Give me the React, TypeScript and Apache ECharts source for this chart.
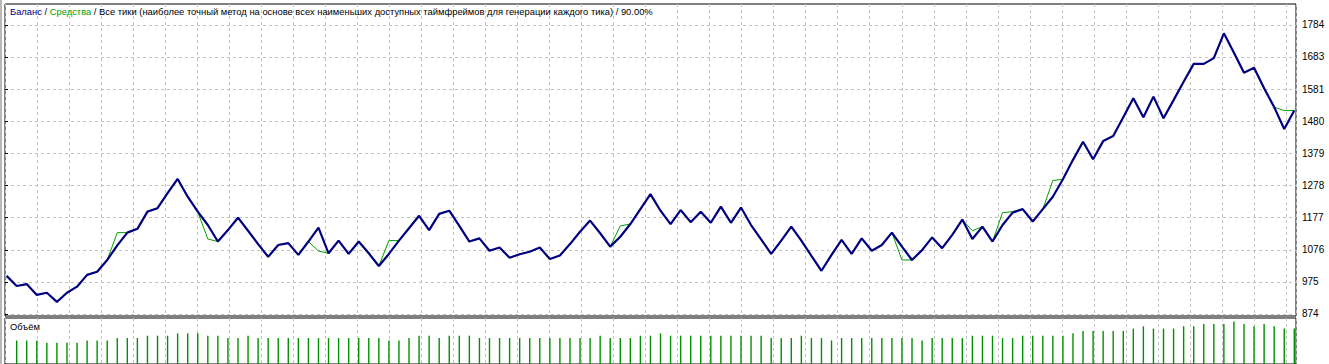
import React, { useEffect, useRef } from "react";
import * as echarts from "echarts";

// Trade index 0..128 (0 = initial deposit)
const balance: number[] = [
  994, 962, 968, 934, 941, 912, 941, 960, 997, 1007,
  1044, 1090, 1130, 1142, 1196, 1207, 1254, 1299, 1243, 1196,
  1154, 1102, 1138, 1177, 1136, 1094, 1054, 1091, 1097, 1060,
  1102, 1146, 1065, 1105, 1063, 1102, 1065, 1025, 1063, 1105,
  1144, 1183, 1138, 1189, 1199, 1151, 1102, 1112, 1073, 1083,
  1051, 1062, 1070, 1083, 1047, 1058, 1094, 1133, 1168, 1128,
  1086, 1117, 1157, 1204, 1251, 1199, 1157, 1201, 1163, 1196,
  1161, 1212, 1161, 1209, 1154, 1109, 1063, 1105, 1149, 1105,
  1057, 1010, 1060, 1107, 1063, 1112, 1073, 1091, 1130, 1086,
  1044, 1075, 1115, 1081, 1123, 1171, 1110, 1149, 1102, 1154,
  1193, 1204, 1165, 1204, 1243, 1298, 1359, 1416, 1361, 1418,
  1434, 1493, 1553, 1493, 1558, 1490, 1547, 1605, 1661, 1661,
  1679, 1757, 1696, 1633, 1649, 1584, 1525, 1456, 1514,
];

const equity: number[] = [
  994, 962, 968, 934, 941, 912, 941, 960, 997, 1007,
  1044, 1130, 1130, 1142, 1196, 1207, 1254, 1299, 1243, 1196,
  1110, 1102, 1138, 1177, 1136, 1094, 1054, 1091, 1097, 1060,
  1102, 1072, 1065, 1105, 1063, 1102, 1065, 1025, 1105, 1105,
  1144, 1183, 1138, 1189, 1199, 1151, 1102, 1112, 1073, 1083,
  1051, 1062, 1070, 1083, 1047, 1058, 1094, 1133, 1168, 1128,
  1086, 1151, 1157, 1204, 1251, 1199, 1157, 1201, 1163, 1196,
  1161, 1212, 1161, 1209, 1154, 1109, 1063, 1105, 1149, 1105,
  1057, 1010, 1060, 1107, 1063, 1112, 1073, 1091, 1130, 1044,
  1044, 1075, 1115, 1081, 1123, 1171, 1136, 1149, 1102, 1193,
  1196, 1204, 1165, 1204, 1294, 1298, 1359, 1416, 1361, 1418,
  1434, 1493, 1553, 1493, 1558, 1490, 1547, 1605, 1661, 1661,
  1679, 1757, 1696, 1633, 1649, 1584, 1525, 1514, 1514,
];

// Lots for trades 1..128
const volume: number[] = [
  0.10, 0.10, 0.10, 0.09, 0.09, 0.09, 0.09, 0.10, 0.10, 0.10,
  0.11, 0.11, 0.11, 0.12, 0.12, 0.12, 0.13, 0.13, 0.13, 0.12,
  0.12, 0.11, 0.11, 0.12, 0.11, 0.11, 0.11, 0.11, 0.11, 0.11,
  0.11, 0.11, 0.11, 0.11, 0.11, 0.11, 0.11, 0.10, 0.10, 0.11,
  0.12, 0.12, 0.11, 0.12, 0.12, 0.12, 0.11, 0.11, 0.11, 0.11,
  0.11, 0.11, 0.11, 0.11, 0.11, 0.11, 0.11, 0.11, 0.12, 0.11,
  0.11, 0.11, 0.12, 0.12, 0.13, 0.12, 0.12, 0.12, 0.12, 0.12,
  0.12, 0.12, 0.12, 0.12, 0.12, 0.11, 0.11, 0.11, 0.12, 0.11,
  0.11, 0.10, 0.11, 0.11, 0.11, 0.11, 0.11, 0.11, 0.11, 0.11,
  0.10, 0.11, 0.11, 0.11, 0.11, 0.12, 0.12, 0.12, 0.11, 0.11,
  0.12, 0.12, 0.12, 0.12, 0.12, 0.13, 0.14, 0.14, 0.14, 0.14,
  0.14, 0.15, 0.16, 0.15, 0.15, 0.15, 0.16, 0.16, 0.17, 0.17,
  0.17, 0.18, 0.17, 0.16, 0.17, 0.16, 0.15, 0.15,
];

const yTicks: number[] = [874, 975, 1076, 1177, 1278, 1379, 1480, 1581, 1683, 1784];

const headerText =
  "{b|Баланс} / {g|Средства} / Все тики (наиболее точный метод на основе всех наименьших доступных таймфреймов для генерации каждого тика) / 90.00%";
const volumeTitle = "Объём";

const FONT = "'Liberation Sans Narrow', 'Liberation Sans', Arial, sans-serif";
const NAVY = "#000080";
const GREEN = "#00a000";
const GRIDC = "#c4c4c4";
const HSIZE = 9.4;

export default function App() {
  const ref = useRef<HTMLDivElement>(null);
  useEffect(() => {
    if (!ref.current) return;
    const chart = echarts.init(ref.current, null, { renderer: "svg" });
    const dashed = { show: true, lineStyle: { color: GRIDC, type: [3, 3] as any, width: 1 } };
    const gridXAxis = (gi: number) => ({
      type: "value",
      gridIndex: gi,
      min: 0,
      max: 40.31,
      interval: 1,
      axisLine: { show: false },
      axisTick: { show: false },
      axisLabel: { show: false },
      splitLine: dashed,
    });
    const dataXAxis = (gi: number) => ({
      type: "value",
      gridIndex: gi,
      min: -0.16,
      max: 128.17,
      show: false,
      splitLine: { show: false },
    });
    chart.setOption({
      animation: false,
      backgroundColor: "#ffffff",
      title: {
        text: headerText,
        left: 10,
        top: 7,
        padding: 0,
        textStyle: {
          fontFamily: FONT,
          fontSize: HSIZE,
          fontWeight: "normal",
          color: "#000",
          rich: {
            b: { color: NAVY, fontFamily: FONT, fontSize: HSIZE },
            g: { color: GREEN, fontFamily: FONT, fontSize: HSIZE },
          },
        },
      },
      graphic: [
        { type: "rect", shape: { x: 0, y: 0, width: 2, height: 364 }, style: { fill: "#b8b8b8" }, silent: true },
        {
          type: "text",
          left: 10,
          top: 322,
          style: { text: volumeTitle, font: `${HSIZE}px ${FONT}`, fill: "#000" },
          silent: true,
        },
      ],
      grid: [
        { left: 5, top: 4, width: 1291, height: 312, show: true, borderColor: "#000", borderWidth: 1, backgroundColor: "#fff" },
        { left: 5, top: 318, width: 1291, height: 78, show: true, borderColor: "#000", borderWidth: 1, backgroundColor: "#fff" },
      ],
      xAxis: [gridXAxis(0), dataXAxis(0), gridXAxis(1), dataXAxis(1)],
      yAxis: [
        {
          type: "value",
          gridIndex: 0,
          position: "right",
          min: 867.7,
          max: 1849.4,
          axisLine: { show: false },
          axisTick: { show: true, length: 3, inside: false, customValues: yTicks, lineStyle: { color: "#000" } },
          axisLabel: {
            show: true,
            customValues: yTicks,
            formatter: (v: number) => String(Math.round(v)),
            margin: 6,
            color: "#000",
            fontFamily: FONT,
            fontSize: 10,
          },
          splitLine: dashed,
        },
        {
          type: "value",
          gridIndex: 1,
          min: 0,
          max: 0.195,
          show: false,
          splitLine: { show: false },
        },
      ],
      series: [
        {
          type: "line",
          name: "Средства",
          xAxisIndex: 1,
          yAxisIndex: 0,
          data: equity.map((v, i) => [i, v]),
          showSymbol: false,
          symbol: "none",
          lineStyle: { color: GREEN, width: 1 },
          z: 3,
        },
        {
          type: "line",
          name: "Баланс",
          xAxisIndex: 1,
          yAxisIndex: 0,
          data: balance.map((v, i) => [i, v]),
          showSymbol: false,
          symbol: "none",
          lineStyle: { color: NAVY, width: 2.2 },
          z: 4,
        },
        {
          type: "bar",
          name: "Объём",
          xAxisIndex: 3,
          yAxisIndex: 1,
          data: volume.map((v, i) => [i + 1, v]),
          barWidth: 1.4,
          itemStyle: { color: "#009000" },
        },
      ],
    });
    return () => chart.dispose();
  }, []);
  return (
    <div
      ref={ref}
      style={{ position: "fixed", left: 0, top: 0, width: 1329, height: 364, background: "#fff" }}
    />
  );
}
